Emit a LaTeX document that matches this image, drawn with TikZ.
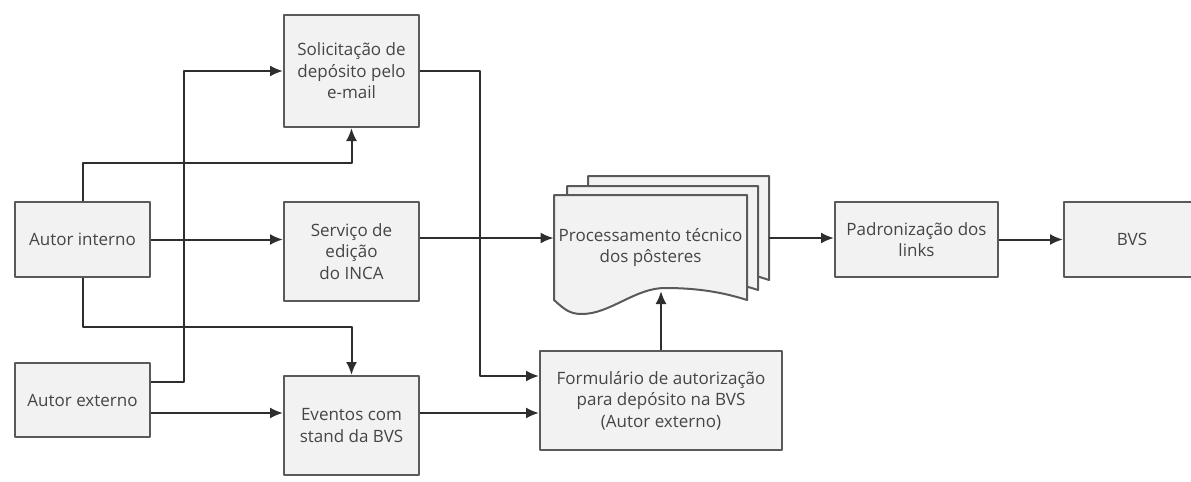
\documentclass[tikz,border=0pt]{standalone}
\usepackage{fontspec}
\setmainfont{Open Sans}
\usetikzlibrary{arrows.meta}

\begin{document}
\begin{tikzpicture}[line join=round, x=0.5pt, y=-0.5pt,
  font=\fontsize{8.5}{10.8}\selectfont,
  box/.style={draw=boxline, fill=boxfill, line width=1pt, align=center, inner sep=0pt, text=txtgray},
  pagestyle/.style={draw=boxline, fill=boxfill, line width=1pt},
  flow/.style={draw=linegray, line width=1pt, -{Latex[length=6.5pt,width=5.5pt]}}]

% ---------- helpers ----------
\definecolor{boxfill}{RGB}{242,242,242}
\definecolor{boxline}{RGB}{90,90,90}
\definecolor{linegray}{RGB}{46,46,46}
\definecolor{txtgray}{RGB}{69,69,69}

% poster sheet: x left, y bottom corner, height, xscale
\newcommand{\postersheet}[4]{%
  \begin{scope}[shift={(#1,#2)},xscale=#4]
    \filldraw[pagestyle] (0,0) -- (0,-#3) -- (193,-#3) -- (193,0)
      .. controls (171,-7) and (146,-12) .. (111,-12)
      .. controls (81,-12) and (56,14) .. (28,14)
      .. controls (16,14) and (11,10) .. (0,0) -- cycle;
  \end{scope}%
}

\path[use as bounding box, clip] (0,0) rectangle (1191,482);

% ---------- boxes ----------
\node[box, minimum width=67.5pt, minimum height=37.5pt] (autint) at (82.5,239.5) {Autor interno};
\node[box, minimum width=67.5pt, minimum height=37pt] (autext) at (82.5,400) {Autor externo};
\node[box, minimum width=67.5pt, minimum height=56pt] (solic) at (351.5,71) {Solicitação de\\depósito pelo\\e-mail};
\node[box, minimum width=67.5pt, minimum height=49.5pt] (servico) at (351.5,251.5) {Serviço de\\edição\\do INCA};
\node[box, minimum width=67.5pt, minimum height=49.5pt] (eventos) at (351.5,425.5) {Eventos com\\stand da BVS};
\node[box, minimum width=121pt, minimum height=49.5pt] (form) at (661,400.5) {Formulário de autorização\\para depósito na BVS\\(Autor externo)};
\node[box, minimum width=81.5pt, minimum height=37.5pt] (padr) at (916.5,239.5) {Padronização dos\\links};
\node[box, minimum width=68pt, minimum height=37.5pt] (bvs) at (1132,239.5) {BVS};

% ---------- posters ----------
\postersheet{588}{280}{104}{0.938}
\postersheet{567}{290}{104}{0.99}
\postersheet{554}{300}{105}{1}
\node[align=center, inner sep=0pt, text=txtgray, minimum width=96.5pt, minimum height=52.5pt] (proc) at (650.5,247.5) {Processamento técnico\\dos pôsteres};
\coordinate (procout) at (769,238);
\coordinate (procbot) at (661,291);

% ---------- connectors ----------
\draw[flow] (autint.north) -- ++(0,-38) -| (solic.south);
\draw[flow] (autint.east) -- (autint.east -| servico.west);
\draw[flow] (autint.south) -- ++(0,49) -| (eventos.north);
\draw[flow] ([yshift=9pt]autext.east) -- ++(33,0) |- (solic.west);
\draw[flow] ([yshift=-6.5pt]autext.east) -- ([yshift=-6.5pt]autext.east -| eventos.west);
\draw[flow] (solic.east) -- ++(60,0) |- ([yshift=12.25pt]form.west);
\draw[flow] ([yshift=6.75pt]servico.east) -- ([yshift=6.75pt]servico.east -| proc.west);
\draw[flow] ([yshift=6.25pt]eventos.east) -- ([yshift=6.25pt]eventos.east -| form.west);
\draw[flow] (form.north) -- (procbot);
\draw[flow] (procout) -- (procout -| padr.west);
\draw[flow] (padr.east) -- (bvs.west);

\end{tikzpicture}
\end{document}
